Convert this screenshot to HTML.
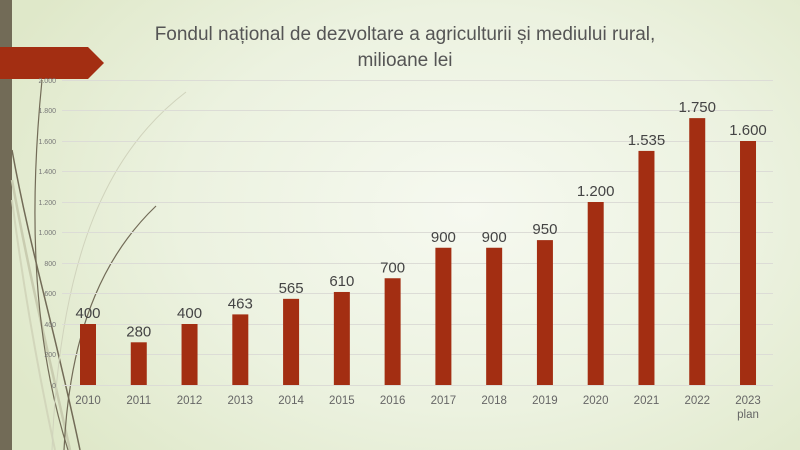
<!DOCTYPE html>
<html><head><meta charset="utf-8"><style>
html,body{margin:0;padding:0}
body{width:800px;height:450px;overflow:hidden;position:relative;font-family:"Liberation Sans",sans-serif;
background:radial-gradient(ellipse 520px 360px at 470px 210px,#f6f9f0 0%,#ecf2e0 55%,#dfe8c9 100%);}
</style></head><body>
<svg width="800" height="450" style="position:absolute;left:0;top:0">
<rect x="0" y="0" width="12" height="450" fill="#726b57"/>
<g fill="none">
<path d="M12 150 C30 250 55 330 80 450" stroke="#726b57" stroke-width="1.5"/>
<path d="M12 180 C30 280 50 360 70 450" stroke="#c9ccb0" stroke-width="2.5"/>
<path d="M12 200 C25 300 40 380 55 450" stroke="#d2d6bb" stroke-width="2"/>
<path d="M42 80 C30 200 30 330 68 450" stroke="#726b57" stroke-width="1.2"/>
<path d="M186 92 C110 150 60 250 52 450" stroke="#d0d3bc" stroke-width="1"/>
<path d="M156 206 C110 250 70 320 64 450" stroke="#726b57" stroke-width="1.2"/>
</g>
<polygon points="0,47 88,47 104,63 88,79 0,79" fill="#a32e12"/>
<g stroke="#dcdcd6" stroke-width="1">
<line x1="62" x2="773" y1="80.5" y2="80.5"/><line x1="62" x2="773" y1="110.5" y2="110.5"/>
<line x1="62" x2="773" y1="141.5" y2="141.5"/><line x1="62" x2="773" y1="171.5" y2="171.5"/>
<line x1="62" x2="773" y1="202.5" y2="202.5"/><line x1="62" x2="773" y1="232.5" y2="232.5"/>
<line x1="62" x2="773" y1="263.5" y2="263.5"/><line x1="62" x2="773" y1="293.5" y2="293.5"/>
<line x1="62" x2="773" y1="324.5" y2="324.5"/><line x1="62" x2="773" y1="354.5" y2="354.5"/>
<line x1="62" x2="773" y1="385.5" y2="385.5"/>
</g>
<g font-size="7" fill="#777" text-anchor="end">
<text x="56" y="83">2.000</text><text x="56" y="113">1.800</text><text x="56" y="144">1.600</text>
<text x="56" y="174">1.400</text><text x="56" y="205">1.200</text><text x="56" y="235">1.000</text>
<text x="56" y="266">800</text><text x="56" y="296">600</text><text x="56" y="327">400</text>
<text x="56" y="357">200</text><text x="56" y="388">0</text>
</g>
<g id="bars" fill="#a32e12"></g>
<g id="lbl" font-size="15" fill="#444" text-anchor="middle"></g>
<g id="yr" font-size="11.5" fill="#666" text-anchor="middle"></g>
<text x="748" y="418" font-size="11.5" fill="#666" text-anchor="middle">plan</text>
<text x="405" y="40" font-size="19" fill="#555" text-anchor="middle">Fondul național de dezvoltare a agriculturii și mediului rural,</text>
<text x="405" y="66" font-size="19" fill="#555" text-anchor="middle">milioane lei</text>
</svg>
<script>
var v=[400,280,400,463,565,610,700,900,900,950,1200,1535,1750,1600];
var l=["400","280","400","463","565","610","700","900","900","950","1.200","1.535","1.750","1.600"];
var ns="http://www.w3.org/2000/svg",b=document.getElementById('bars'),L=document.getElementById('lbl'),Y=document.getElementById('yr');
v.forEach(function(d,i){var cx=88+i*50.77,h=d*0.1525,top=385-h;
var r=document.createElementNS(ns,'rect');r.setAttribute('x',cx-8);r.setAttribute('y',top);r.setAttribute('width',16);r.setAttribute('height',h);b.appendChild(r);
var t=document.createElementNS(ns,'text');t.setAttribute('x',cx);t.setAttribute('y',top-6);t.textContent=l[i];L.appendChild(t);
var y=document.createElementNS(ns,'text');y.setAttribute('x',cx);y.setAttribute('y',404);y.textContent=2010+i;Y.appendChild(y);});
</script>
</body></html>
